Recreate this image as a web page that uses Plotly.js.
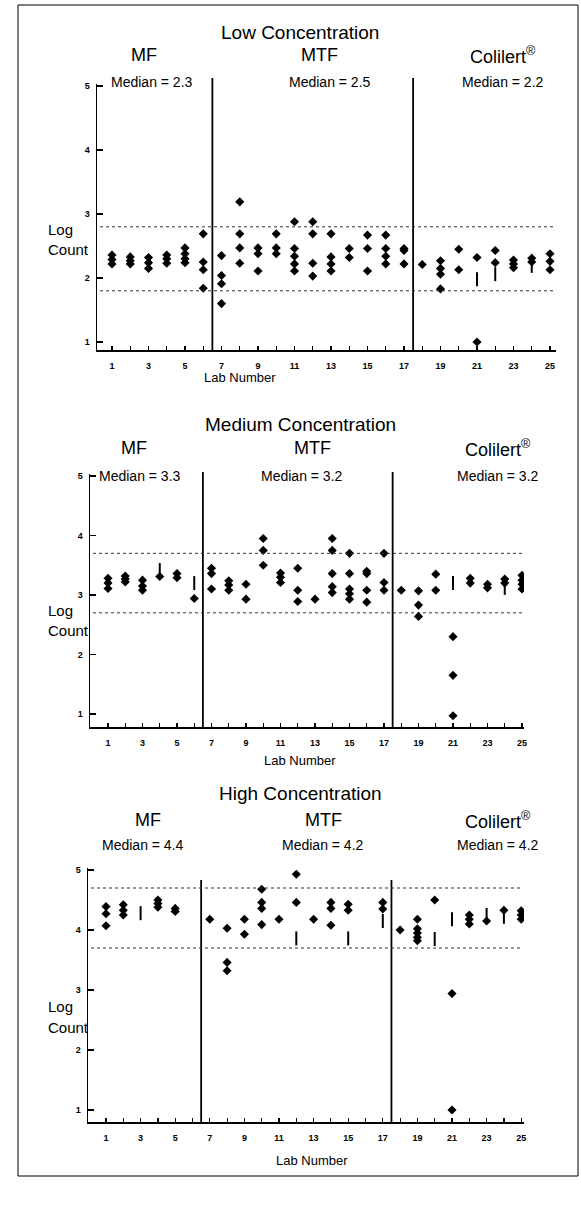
<!DOCTYPE html>
<html><head><meta charset="utf-8">
<script src="https://cdn.plot.ly/plotly-3.0.1.min.js"></script>
<style>html,body{margin:0;padding:0;background:#fff}#chart{width:581px;height:1227px}</style>
</head><body><div id="chart"></div>
<script>
// ---------------- DATA ----------------
const labTickVals = [1,3,5,7,9,11,13,15,17,19,21,23,25];
const labTickText = ['1','3','5','7','9','11','13','15','17','19','21','23','25'];
const labMinorTicks = [2,4,6,8,10,12,14,16,18,20,22,24];
const logTickVals = [1,2,3,4,5];
const methodNames = ['MF','MTF','Colilert<sup>®</sup>'];

const lowLabs = [1,1,1, 2,2,2, 3,3,3, 4,4,4, 5,5,5,5, 6,6,6,6, 7,7,7,7, 8,8,8,8, 9,9,9, 10,10,10,
  11,11,11,11,11, 12,12,12,12, 13,13,13,13, 14,14, 15,15,15, 16,16,16,16, 17,17,17, 18, 19,19,19,19,
  20,20, 21,21, 22,22, 23,23,23, 24,24, 25,25,25];
const lowLogCount = [2.36,2.29,2.22, 2.33,2.27,2.22, 2.32,2.24,2.15, 2.36,2.30,2.23, 2.47,2.38,2.30,2.24,
  2.69,2.25,2.13,1.84, 2.35,2.04,1.91,1.60, 3.19,2.69,2.47,2.23, 2.47,2.38,2.11, 2.69,2.47,2.38,
  2.88,2.46,2.34,2.22,2.11, 2.88,2.69,2.23,2.03, 2.69,2.33,2.22,2.11, 2.46,2.32, 2.67,2.46,2.11,
  2.67,2.46,2.34,2.22, 2.46,2.43,2.22, 2.21, 2.27,2.15,2.06,1.83, 2.45,2.13, 2.32,1.00, 2.43,2.24,
  2.28,2.22,2.16, 2.31,2.25, 2.38,2.26,2.13];
const lowBarLabs = [21,22,24];
const lowBarLogCount = [1.98,2.06,2.19];
const lowMedians = ['2.3','2.5','2.2'];
const lowLimits = [1.8,2.8];

const medLabs = [1,1,1, 2,2,2, 3,3,3, 4, 5,5, 6, 7,7,7, 8,8,8, 9,9, 10,10,10, 11,11,11, 12,12,12, 13,
  14,14,14,14,14, 15,15,15,15,15, 16,16,16,16, 17,17,17, 18, 19,19,19, 20,20, 21,21,21, 22,22, 23,23,
  24,24, 25,25,25,25];
const medLogCount = [3.28,3.20,3.11, 3.32,3.27,3.22, 3.25,3.15,3.08, 3.31, 3.36,3.29, 2.94, 3.45,3.36,3.10,
  3.24,3.17,3.08, 3.18,2.93, 3.95,3.75,3.50, 3.37,3.30,3.21, 3.45,3.08,2.89, 2.93,
  3.95,3.75,3.36,3.14,3.04, 3.70,3.36,3.10,3.02,2.93, 3.40,3.36,3.08,2.88, 3.70,3.21,3.08, 3.08,
  3.07,2.83,2.64, 3.35,3.08, 2.30,1.65,0.97, 3.28,3.20, 3.18,3.12, 3.27,3.20, 3.33,3.25,3.18,3.10];
const medBarLabs = [4,6,21,24];
const medBarLogCount = [3.42,3.20,3.20,3.12];
const medMedians = ['3.3','3.2','3.2'];
const medLimits = [2.7,3.7];

const highLabs = [1,1,1, 2,2,2, 4,4,4, 5,5, 7, 8,8,8, 9,9, 10,10,10,10, 11, 12,12, 13, 14,14,14,
  15,15, 17,17, 18, 19,19,19,19,19, 20, 21,21, 22,22,22, 23, 24, 25,25,25];
const highLogCount = [4.39,4.27,4.07, 4.42,4.33,4.25, 4.50,4.44,4.38, 4.36,4.31, 4.18, 4.03,3.46,3.32,
  4.18,3.93, 4.68,4.46,4.36,4.09, 4.18, 4.93,4.46, 4.18, 4.46,4.36,4.08, 4.43,4.33, 4.46,4.35, 4.00,
  4.18,4.02,3.95,3.88,3.82, 4.50, 2.94,1.00, 4.25,4.18,4.10, 4.15, 4.33, 4.32,4.25,4.18];
const highBarLabs = [3,12,15,17,20,21,23,24];
const highBarLogCount = [4.28,3.86,3.86,4.15,3.85,4.18,4.25,4.22];
const highMedians = ['4.4','4.2','4.2'];
const highLimits = [3.7,4.7];

// ---------------- LAYOUT HELPERS ----------------
const W = 581, H = 1227;
const fx = px => px / W;
const fy = py => 1 - py / H;
const FONT = 'Liberation Sans, Arial, Helvetica, sans-serif';

const panels = [
  {name:'Low Concentration', labs:lowLabs, vals:lowLogCount, barLabs:lowBarLabs, barVals:lowBarLogCount,
   medians:lowMedians, limits:lowLimits,
   axisX:97, lab1:112, step:18.25, right:556, v3:214, unit:64, top:84, bottom:350, divTop:78,
   titleY:32, methY:55, medY:82, methX:[144,320,503], medX:[152,330,503], logY:230, labNumX:240, labNumY:378},
  {name:'Medium Concentration', labs:medLabs, vals:medLogCount, barLabs:medBarLabs, barVals:medBarLogCount,
   medians:medMedians, limits:medLimits,
   axisX:90, lab1:108, step:17.25, right:524, v3:595, unit:59.5, top:474, bottom:727, divTop:472,
   titleY:424, methY:448, medY:476, methX:[134,312,498], medX:[140,302,498], logY:610, labNumX:300, labNumY:760},
  {name:'High Concentration', labs:highLabs, vals:highLogCount, barLabs:highBarLabs, barVals:highBarLogCount,
   medians:highMedians, limits:highLimits,
   axisX:88, lab1:106, step:17.3, right:524, v3:990, unit:60, top:868, bottom:1122, divTop:880,
   titleY:793, methY:820, medY:845, methX:[148,323,498], medX:[143,323,498], logY:1007, labNumX:312, labNumY:1160}
];

const data = [];
const layout = {
  width: W, height: H, margin:{l:0,r:0,t:0,b:0}, showlegend:false,
  paper_bgcolor:'#fff', plot_bgcolor:'rgba(0,0,0,0)',
  font:{family:FONT, color:'#000'},
  annotations:[], shapes:[]
};

// outer frame
layout.shapes.push({type:'rect', xref:'paper', yref:'paper', x0:fx(18), x1:fx(578), y0:fy(1176), y1:fy(5),
  line:{color:'#000', width:1}});

panels.forEach((p, i) => {
  const n = i === 0 ? '' : String(i + 1);
  const xa = 'xaxis' + n, ya = 'yaxis' + n, xr = 'x' + n, yr = 'y' + n;
  const xRange = [1 + (p.axisX - p.lab1) / p.step, 1 + (p.right - p.lab1) / p.step];
  const yRange = [3 - (p.bottom - p.v3) / p.unit, 3 + (p.v3 - p.top) / p.unit];
  layout[xa] = {
    domain:[fx(p.axisX), fx(p.right)], range:xRange, anchor:yr,
    showline:true, linecolor:'#000', linewidth:1.5, ticks:'inside', ticklen:4, tickwidth:1.2, tickcolor:'#000',
    tickvals:labTickVals, ticktext:labTickText, tickangle:0, ticklabelstandoff:7,
    minor:{tickvals:labMinorTicks, ticks:'inside', ticklen:4, tickwidth:1.2, tickcolor:'#000', showgrid:false},
    tickfont:{size:9, family:FONT, weight:'bold'}, showgrid:false, zeroline:false, fixedrange:true
  };
  layout[ya] = {
    domain:[fy(p.bottom), fy(p.top)], range:yRange, anchor:xr,
    showline:true, linecolor:'#000', linewidth:1.5, ticks:'inside', ticklen:6, tickwidth:1.5, tickcolor:'#000',
    tickvals:logTickVals, tickfont:{size:9, family:FONT, weight:'bold'}, ticklabelstandoff:4,
    showgrid:false, zeroline:false, fixedrange:true
  };

  data.push({type:'scatter', mode:'markers', x:p.labs, y:p.vals, xaxis:xr, yaxis:yr,
    marker:{symbol:'diamond', size:7, color:'#000'}, hoverinfo:'x+y'});
  data.push({type:'scatter', mode:'markers', x:p.barLabs, y:p.barVals, xaxis:xr, yaxis:yr,
    marker:{symbol:'line-ns', size:10, color:'#000', line:{color:'#000', width:2}}, hoverinfo:'x+y'});

  // method dividers
  [6.5, 17.5].forEach(xv => layout.shapes.push({type:'line', xref:xr, yref:'paper', x0:xv, x1:xv,
    y0:fy(p.bottom), y1:fy(p.divTop), line:{color:'#000', width:1.8}}));
  // median +/- 0.5 dotted limits
  p.limits.forEach(yv => layout.shapes.push({type:'line', xref:'paper', yref:yr, x0:fx(p.axisX + 3), x1:fx(p.right - 2),
    y0:yv, y1:yv, line:{color:'#333', width:1, dash:'dot'}}));

  const ann = (text, x, y, size, extra) => layout.annotations.push(Object.assign({text, xref:'paper', yref:'paper',
    x:fx(x), y:fy(y), showarrow:false, xanchor:'center', yanchor:'middle', font:{size, family:FONT, color:'#000'}}, extra || {}));
  ann(p.name, 300, p.titleY, 19);
  methodNames.forEach((m, k) => ann(m, p.methX[k], p.methY, 18));
  p.medians.forEach((m, k) => ann('Median = ' + m, p.medX[k], p.medY, 14));
  ann('Log', 46, p.logY, 15, {xanchor:'left'});
  ann('Count', 46, p.logY + 20, 15, {xanchor:'left'});
  ann('Lab Number', p.labNumX, p.labNumY, 13);
});

Plotly.newPlot('chart', data, layout, {staticPlot:true});
</script></body></html>
